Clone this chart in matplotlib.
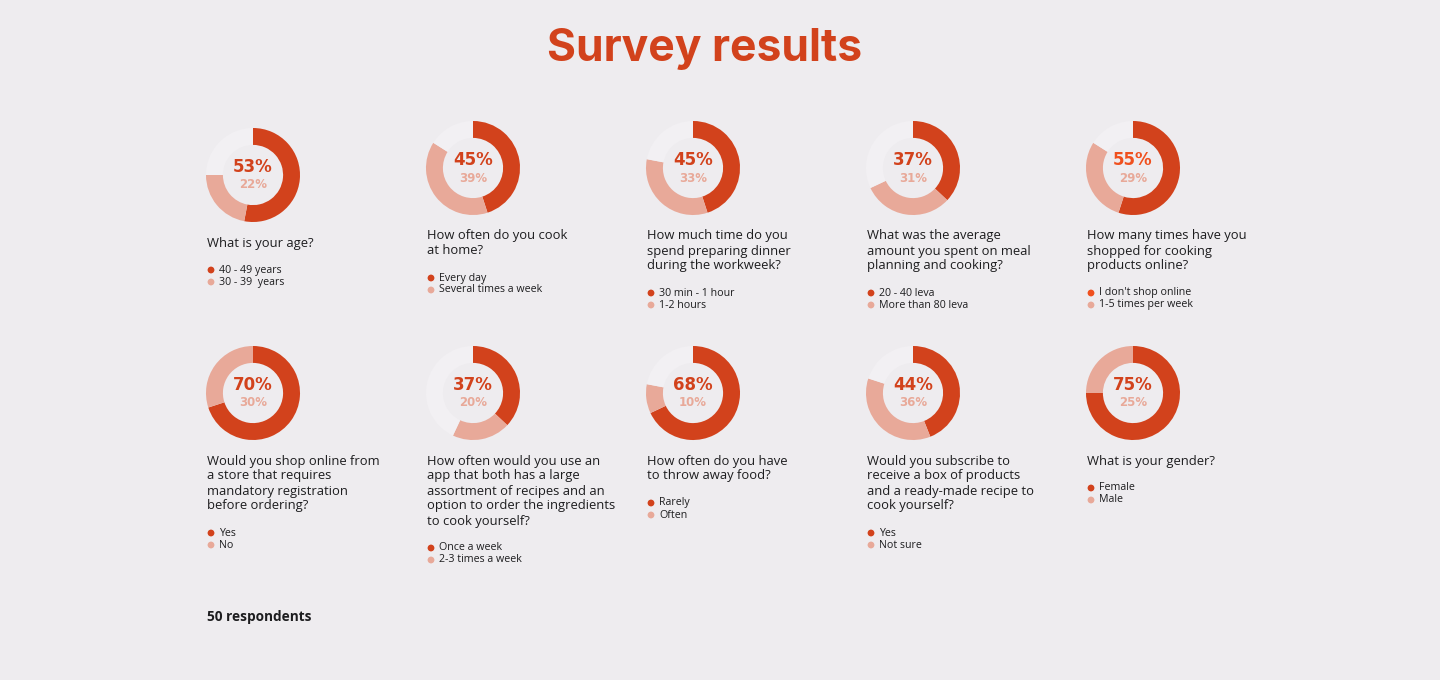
import matplotlib.pyplot as plt

# survey data
questions = [
    "What is your age?",
    "How often do you cook\nat home?",
    "How much time do you\nspend preparing dinner\nduring the workweek?",
    "What was the average\namount you spent on meal\nplanning and cooking?",
    "How many times have you\nshopped for cooking\nproducts online?",
    "Would you shop online from\na store that requires\nmandatory registration\nbefore ordering?",
    "How often would you use an\napp that both has a large\nassortment of recipes and an\noption to order the ingredients\nto cook yourself?",
    "How often do you have\nto throw away food?",
    "Would you subscribe to\nreceive a box of products\nand a ready-made recipe to\ncook yourself?",
    "What is your gender?",
]
first_pct = [53, 45, 45, 37, 55, 70, 37, 68, 44, 75]
second_pct = [22, 39, 33, 31, 29, 30, 20, 10, 36, 25]
first_label = ["40 - 49 years", "Every day", "30 min - 1 hour", "20 - 40 leva",
               "I don't shop online", "Yes", "Once a week", "Rarely", "Yes", "Female"]
second_label = ["30 - 39  years", "Several times a week", "1-2 hours", "More than 80 leva",
                "1-5 times per week", "No", "2-3 times a week", "Often", "Not sure", "Male"]

BG = "#eeecef"
DARK = "#d2421c"
ORANGE = "#f0501e"
LIGHT = "#e8a999"
REST = "#f2f0f3"
TXT = "#1d1d1f"
BODY = "Open Sans"

W, H = 1440, 680
fig = plt.figure(figsize=(W / 100, H / 100), dpi=100, facecolor=BG)
ax = fig.add_axes([0, 0, 1, 1])
ax.set_xlim(0, W)
ax.set_ylim(H, 0)
ax.axis('off')

ax.text(705, 49, "Survey results", ha='center', va='center', fontsize=32,
        fontweight='bold', family='Inter', color=DARK)

centers = [(253, 175), (473, 168), (693, 168), (913, 168), (1133, 168),
           (253, 393), (473, 393), (693, 393), (913, 393), (1133, 393)]

for i, (cx, cy) in enumerate(centers):
    a, b = first_pct[i], second_pct[i]
    main_col = ORANGE if i == 4 else DARK
    pax = fig.add_axes([(cx - 55) / W, 1 - (cy + 55) / H, 110 / W, 110 / H])
    vals = [a, b, 100 - a - b]
    pax.pie(vals, colors=[DARK, LIGHT, REST], startangle=90, counterclock=False,
            wedgeprops=dict(width=0.36, edgecolor='none'))
    pax.set_xlim(-1.17, 1.17)
    pax.set_ylim(-1.17, 1.17)
    pax.set_aspect('equal')
    pax.axis('off')

    ax.text(cx, cy - 8, f"{a}%", ha='center', va='center', fontsize=12,
            fontweight='bold', family='DejaVu Sans', color=main_col)
    ax.text(cx, cy + 10, f"{b}%", ha='center', va='center', fontsize=8.5,
            fontweight='bold', family='DejaVu Sans', color=LIGHT)

    lines = questions[i].split("\n")
    qy = cy + 68
    for k, ln in enumerate(lines):
        ax.text(cx - 46, qy + 15 * k, ln, ha='left', va='center', fontsize=9.4,
                family=BODY, color=TXT)
    ly = qy + 15 * (len(lines) - 1) + 27
    ax.scatter([cx - 42], [ly], s=24, color=main_col, edgecolors='none')
    ax.scatter([cx - 42], [ly + 12], s=24, color=LIGHT, edgecolors='none')
    ax.text(cx - 34, ly, first_label[i], ha='left', va='center', fontsize=7.7,
            family=BODY, color=TXT)
    ax.text(cx - 34, ly + 12, second_label[i], ha='left', va='center', fontsize=7.7,
            family=BODY, color=TXT)

ax.text(207, 617, "50 respondents", ha='left', va='center', fontsize=9.8,
        fontweight='bold', family=BODY, color=TXT)

fig.savefig("out.png", dpi=100, facecolor=BG)
